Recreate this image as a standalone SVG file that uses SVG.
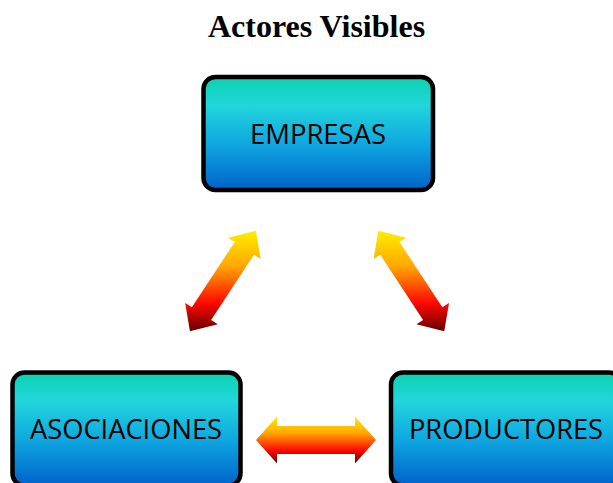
<svg xmlns="http://www.w3.org/2000/svg" width="613" height="483" viewBox="0 0 613 483">
<defs>
<linearGradient id="boxg" x1="0" y1="0" x2="0" y2="1">
<stop offset="0" stop-color="#0CD2AE"/>
<stop offset="0.25" stop-color="#22D6DC"/>
<stop offset="0.6" stop-color="#0FA6E0"/>
<stop offset="1" stop-color="#0062CA"/>
</linearGradient>
<linearGradient id="arrg" x1="0" y1="0" x2="0" y2="1">
<stop offset="0" stop-color="#FFEE00"/>
<stop offset="0.35" stop-color="#FFA800"/>
<stop offset="0.72" stop-color="#FF0800"/>
<stop offset="1" stop-color="#660000"/>
</linearGradient>
<style>
.box{fill:url(#boxg);stroke:#000;stroke-width:4.5}
.lbl{font-family:"Open Sans","Noto Sans",sans-serif;font-size:28px;fill:#000;text-anchor:middle}
.arr{fill:url(#arrg);stroke:none}
.title{font-family:"Liberation Serif","Times New Roman",serif;font-weight:bold;font-size:32px;fill:#000;text-anchor:middle}
</style>
</defs>
<rect width="613" height="483" fill="#fff"/>
<text class="title" x="316.5" y="37">Actores Visibles</text>
<g id="connectors">
<path class="arr" d="M255.86,230.83 L228.02,237.68 L234.70,242.07 L191.86,307.29 L185.18,302.90 L189.94,331.17 L217.78,324.32 L211.10,319.93 L253.94,254.71 L260.62,259.10 Z"/>
<path class="arr" d="M378.34,230.83 L406.18,237.68 L399.50,242.07 L442.34,307.29 L449.02,302.90 L444.26,331.17 L416.42,324.32 L423.10,319.93 L380.26,254.71 L373.58,259.10 Z"/>
<path class="arr" d="M256,440 L277,416.5 L277,426 L355,426 L355,416.5 L376,440 L355,463.5 L355,454 L277,454 L277,463.5 Z"/>
</g>
<g id="empresas">
<rect class="box" x="203.5" y="77" width="229.5" height="113" rx="12"/>
<text class="lbl" x="318" y="143.5" textLength="136" lengthAdjust="spacingAndGlyphs">EMPRESAS</text>
</g>
<g id="asociaciones">
<rect class="box" x="12.5" y="372.5" width="228" height="113" rx="12"/>
<text class="lbl" x="126" y="438.5" textLength="192" lengthAdjust="spacingAndGlyphs">ASOCIACIONES</text>
</g>
<g id="productores">
<rect class="box" x="391" y="372.5" width="230" height="113" rx="12"/>
<text class="lbl" x="506" y="438.5" textLength="194" lengthAdjust="spacingAndGlyphs">PRODUCTORES</text>
</g>
</svg>
